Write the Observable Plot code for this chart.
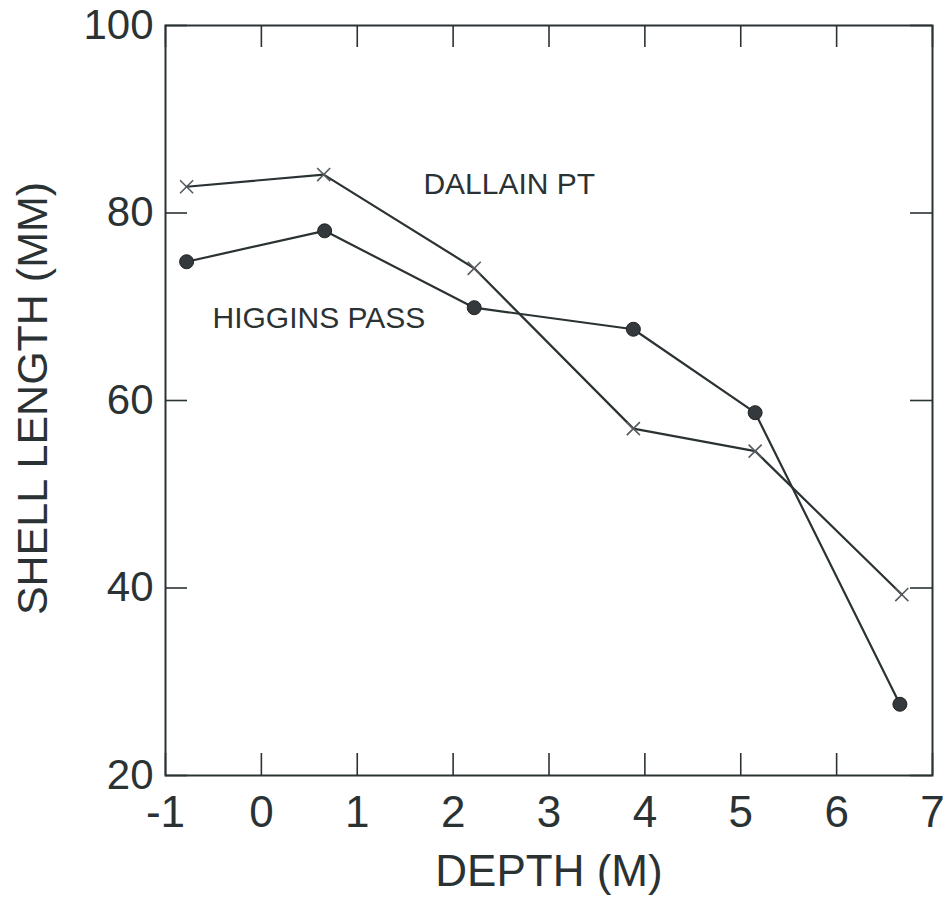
<!DOCTYPE html>
<html><head><meta charset="utf-8">
<script src="https://cdn.jsdelivr.net/npm/d3@7"></script>
<script src="https://cdn.jsdelivr.net/npm/@observablehq/plot@0.6"></script>
<style>html,body{margin:0;padding:0;background:#fff} svg{display:block}</style>
</head><body><div id="chart"></div>
<script>
// Data
const depthDallain  = [-0.78, 0.65, 2.22, 3.88, 5.15, 6.68];
const lengthDallain = [82.8, 84.1, 74.1, 57.0, 54.6, 39.3];
const depthHiggins  = [-0.78, 0.66, 2.22, 3.88, 5.15, 6.66];
const lengthHiggins = [74.8, 78.1, 69.9, 67.6, 58.7, 27.6];
const xTicks = [-1, 0, 1, 2, 3, 4, 5, 6, 7];
const yTicks = [20, 40, 60, 80, 100];
const labelText = ["DALLAIN PT", "HIGGINS PASS"];
const labelX = [1.69, -0.51];
const labelY = [83.0, 68.8];

const dallain = depthDallain.map((d, i) => ({depth: d, len: lengthDallain[i]}));
const higgins = depthHiggins.map((d, i) => ({depth: d, len: lengthHiggins[i]}));
const labels = labelText.map((t, i) => ({text: t, x: labelX[i], y: labelY[i]}));

const ink = "#2b3234";
const W = 948, H = 898, mL = 165, mR = 16, mT = 25, mB = 123;
const innerW = W - mL - mR, innerH = H - mT - mB, tk = 22;

const chart = Plot.plot({
  width: W, height: H,
  marginLeft: mL, marginRight: mR, marginTop: mT, marginBottom: mB,
  style: {fontFamily: "'Liberation Sans', Arial, Helvetica, sans-serif", background: "#fff", color: ink},
  x: {domain: [-1, 7]},
  y: {domain: [20, 100]},
  marks: [
    // inward ticks on all four sides
    Plot.tickX(xTicks, {x: d => d, insetTop: innerH - tk, stroke: ink, strokeWidth: 1.6}),
    Plot.tickX(xTicks, {x: d => d, insetBottom: innerH - tk, stroke: ink, strokeWidth: 1.6}),
    Plot.tickY(yTicks, {y: d => d, insetRight: innerW - tk, stroke: ink, strokeWidth: 1.6}),
    Plot.tickY(yTicks, {y: d => d, insetLeft: innerW - tk, stroke: ink, strokeWidth: 1.6}),
    Plot.frame({stroke: ink, strokeWidth: 2}),
    Plot.axisX({anchor: "bottom", ticks: xTicks, tickSize: 0, tickPadding: 20, fontSize: 44, label: null, tickFormat: d => String(d)}),
    Plot.axisY({anchor: "left", ticks: yTicks, tickSize: 0, tickPadding: 12, fontSize: 42, label: null, tickFormat: d => String(d)}),
    Plot.text(["DEPTH (M)"], {text: d => d, frameAnchor: "bottom", dy: 110, lineAnchor: "bottom", fontSize: 44, fill: ink}),
    Plot.text(["SHELL LENGTH (MM)"], {text: d => d, frameAnchor: "left", dx: -132, dy: -2, rotate: -90, textAnchor: "middle", lineAnchor: "middle", fontSize: 43, fill: ink}),
    // series
    Plot.line(dallain, {x: "depth", y: "len", stroke: ink, strokeWidth: 2.2}),
    Plot.line(higgins, {x: "depth", y: "len", stroke: ink, strokeWidth: 2.2}),
    Plot.dot(dallain, {x: "depth", y: "len", symbol: "times", r: 6, stroke: "#555b5e", strokeWidth: 1.6, fill: "none"}),
    Plot.dot(higgins, {x: "depth", y: "len", symbol: "circle", r: 7, fill: "#33393c", stroke: "#222", strokeWidth: 1}),
    Plot.text(labels, {x: "x", y: "y", text: "text", textAnchor: "start", fontSize: 30, fill: ink})
  ]
});
document.getElementById("chart").appendChild(chart);
</script>
</body></html>
